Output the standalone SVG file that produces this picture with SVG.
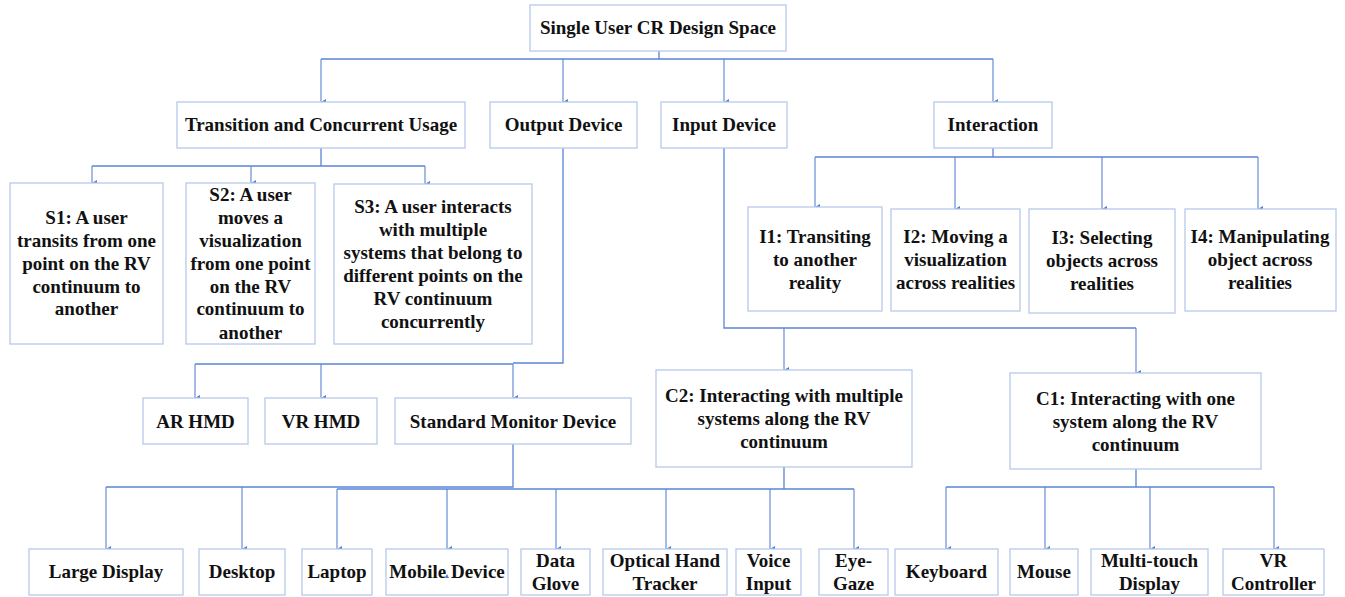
<svg xmlns="http://www.w3.org/2000/svg" width="1345" height="597" viewBox="0 0 1345 597">
  <defs>
    <marker id="arrow" viewBox="0 0 6 5" refX="3" refY="5" markerWidth="6" markerHeight="5" markerUnits="userSpaceOnUse" orient="auto-start-reverse">
      <path d="M0,0 L6,0 L3,5 Z" fill="#4f7bd3"/>
    </marker>
    <style>
      .box { fill: #ffffff; stroke: #b7c9ea; stroke-width: 1.3; }
      .lbl { font-family: "Liberation Serif", "Times New Roman", serif; font-weight: bold; font-size: 19px; fill: #111111; text-anchor: middle; }
      .wire { fill: none; stroke: #5a84d6; stroke-width: 1.3; }
      .drop { fill: none; stroke: #5a84d6; stroke-width: 1.1; marker-end: url(#arrow); }
    </style>
  </defs>
  <rect width="1345" height="597" fill="#ffffff"/>

  <!-- connectors -->
  <g id="connectors">
    <!-- root to categories -->
    <path class="wire" d="M659,51 V59 M321,59 H993"/>
    <path class="drop" d="M321,59 V102"/>
    <path class="drop" d="M563,59 V102"/>
    <path class="drop" d="M724,59 V102"/>
    <path class="drop" d="M993,59 V102"/>
    <!-- transition and concurrent usage -->
    <path class="wire" d="M321,148 V166 M92,166 H425"/>
    <path class="drop" d="M92,166 V183"/>
    <path class="drop" d="M251,166 V183"/>
    <path class="drop" d="M425,166 V184"/>
    <!-- output device -->
    <path class="wire" d="M563,148 V363 H513 M195,364 H513"/>
    <path class="drop" d="M195,364 V398"/>
    <path class="drop" d="M321,364 V398"/>
    <path class="drop" d="M513,364 V398"/>
    <!-- input device -->
    <path class="wire" d="M724,148 V328 H1136"/>
    <path class="drop" d="M784,328 V370"/>
    <path class="drop" d="M1136,328 V373"/>
    <!-- interaction -->
    <path class="wire" d="M993,148 V157 M815,157 H1258"/>
    <path class="drop" d="M815,157 V207"/>
    <path class="drop" d="M955,157 V209"/>
    <path class="drop" d="M1102,157 V209"/>
    <path class="drop" d="M1258,157 V209"/>
    <!-- standard monitor device -->
    <path class="wire" d="M513,444 V487 H106"/>
    <path class="drop" d="M106,487 V549"/>
    <path class="drop" d="M242,487 V549"/>
    <path class="drop" d="M337,489 V549"/>
    <path class="drop" d="M447,489 V549"/>
    <!-- C2 -->
    <path class="wire" d="M784,467 V489 M337,489 H854"/>
    <path class="drop" d="M556,489 V549"/>
    <path class="drop" d="M666,489 V549"/>
    <path class="drop" d="M770,489 V549"/>
    <path class="drop" d="M854,489 V549"/>
    <!-- C1 -->
    <path class="wire" d="M1136,469 V487 M946,487 H1274"/>
    <path class="drop" d="M946,487 V549"/>
    <path class="drop" d="M1045,487 V549"/>
    <path class="drop" d="M1150,487 V549"/>
    <path class="drop" d="M1274,487 V549"/>
  </g>

  <!-- root -->
  <g id="root">
    <rect class="box" x="530" y="5" width="256" height="46"/>
    <text class="lbl" x="658" y="34">Single User CR Design Space</text>
  </g>

  <!-- categories -->
  <g id="transition">
    <rect class="box" x="177" y="102" width="288" height="46"/>
    <text class="lbl" x="321" y="131">Transition and Concurrent Usage</text>
  </g>
  <g id="output-device">
    <rect class="box" x="490" y="102" width="147" height="46"/>
    <text class="lbl" x="563.5" y="131">Output Device</text>
  </g>
  <g id="input-device">
    <rect class="box" x="661" y="102" width="126" height="46"/>
    <text class="lbl" x="724" y="131">Input Device</text>
  </g>
  <g id="interaction">
    <rect class="box" x="934" y="102" width="118" height="46"/>
    <text class="lbl" x="993" y="131">Interaction</text>
  </g>

  <!-- scenarios -->
  <g id="s1">
    <rect class="box" x="10" y="183" width="153" height="161"/>
    <text class="lbl" x="86.5" y="224">S1: A user</text>
    <text class="lbl" x="86.5" y="247">transits from one</text>
    <text class="lbl" x="86.5" y="270">point on the RV</text>
    <text class="lbl" x="86.5" y="293">continuum to</text>
    <text class="lbl" x="86.5" y="315">another</text>
  </g>
  <g id="s2">
    <rect class="box" x="186" y="183" width="129" height="161"/>
    <text class="lbl" x="250.5" y="201">S2: A user</text>
    <text class="lbl" x="250.5" y="224">moves a</text>
    <text class="lbl" x="250.5" y="247">visualization</text>
    <text class="lbl" x="250.5" y="270">from one point</text>
    <text class="lbl" x="250.5" y="293">on the RV</text>
    <text class="lbl" x="250.5" y="315">continuum to</text>
    <text class="lbl" x="250.5" y="339">another</text>
  </g>
  <g id="s3">
    <rect class="box" x="334" y="184" width="198" height="160"/>
    <text class="lbl" x="433" y="213">S3: A user interacts</text>
    <text class="lbl" x="433" y="236">with multiple</text>
    <text class="lbl" x="433" y="259">systems that belong to</text>
    <text class="lbl" x="433" y="282">different points on the</text>
    <text class="lbl" x="433" y="305">RV continuum</text>
    <text class="lbl" x="433" y="328">concurrently</text>
  </g>

  <!-- interactions -->
  <g id="i1">
    <rect class="box" x="748" y="207" width="134" height="104"/>
    <text class="lbl" x="815" y="243">I1: Transiting</text>
    <text class="lbl" x="815" y="266">to another</text>
    <text class="lbl" x="815" y="289">reality</text>
  </g>
  <g id="i2">
    <rect class="box" x="891" y="209" width="129" height="102"/>
    <text class="lbl" x="955.5" y="243">I2: Moving a</text>
    <text class="lbl" x="955.5" y="266">visualization</text>
    <text class="lbl" x="955.5" y="289">across realities</text>
  </g>
  <g id="i3">
    <rect class="box" x="1029" y="209" width="146" height="104"/>
    <text class="lbl" x="1102" y="244">I3: Selecting</text>
    <text class="lbl" x="1102" y="267">objects across</text>
    <text class="lbl" x="1102" y="290">realities</text>
  </g>
  <g id="i4">
    <rect class="box" x="1185" y="209" width="151" height="102"/>
    <text class="lbl" x="1260" y="243">I4: Manipulating</text>
    <text class="lbl" x="1260" y="266">object across</text>
    <text class="lbl" x="1260" y="289">realities</text>
  </g>

  <!-- output devices -->
  <g id="ar-hmd">
    <rect class="box" x="143" y="398" width="105" height="46"/>
    <text class="lbl" x="195.5" y="428">AR HMD</text>
  </g>
  <g id="vr-hmd">
    <rect class="box" x="265" y="398" width="112" height="46"/>
    <text class="lbl" x="321" y="428">VR HMD</text>
  </g>
  <g id="standard-monitor">
    <rect class="box" x="395" y="398" width="236" height="46"/>
    <text class="lbl" x="513" y="428">Standard Monitor Device</text>
  </g>

  <!-- continuum modes -->
  <g id="c2">
    <rect class="box" x="656" y="370" width="256" height="97"/>
    <text class="lbl" x="784" y="402">C2: Interacting with multiple</text>
    <text class="lbl" x="784" y="425">systems along the RV</text>
    <text class="lbl" x="784" y="448">continuum</text>
  </g>
  <g id="c1">
    <rect class="box" x="1010" y="373" width="251" height="96"/>
    <text class="lbl" x="1135.5" y="405">C1: Interacting with one</text>
    <text class="lbl" x="1135.5" y="428">system along the RV</text>
    <text class="lbl" x="1135.5" y="451">continuum</text>
  </g>

  <!-- devices -->
  <g id="large-display">
    <rect class="box" x="29" y="549" width="154" height="46"/>
    <text class="lbl" x="106" y="578">Large Display</text>
  </g>
  <g id="desktop">
    <rect class="box" x="199" y="549" width="86" height="46"/>
    <text class="lbl" x="242" y="578">Desktop</text>
  </g>
  <g id="laptop">
    <rect class="box" x="302" y="549" width="70" height="46"/>
    <text class="lbl" x="337" y="578">Laptop</text>
  </g>
  <g id="mobile-device">
    <rect class="box" x="386" y="549" width="122" height="46"/>
    <text class="lbl" x="447" y="578">Mobile Device</text>
    <path d="M445,578 L449,578 L447,574 Z" fill="#4f7bd3"/>
  </g>
  <g id="data-glove">
    <rect class="box" x="521" y="549" width="69" height="46"/>
    <text class="lbl" x="555.5" y="567">Data</text>
    <text class="lbl" x="555.5" y="590">Glove</text>
  </g>
  <g id="optical-hand-tracker">
    <rect class="box" x="603" y="549" width="124" height="46"/>
    <text class="lbl" x="665" y="567">Optical Hand</text>
    <text class="lbl" x="665" y="590">Tracker</text>
  </g>
  <g id="voice-input">
    <rect class="box" x="736" y="549" width="65" height="46"/>
    <text class="lbl" x="768.5" y="567">Voice</text>
    <text class="lbl" x="768.5" y="590">Input</text>
  </g>
  <g id="eye-gaze">
    <rect class="box" x="819" y="549" width="69" height="46"/>
    <text class="lbl" x="853.5" y="567">Eye-</text>
    <text class="lbl" x="853.5" y="590">Gaze</text>
  </g>
  <g id="keyboard">
    <rect class="box" x="895" y="549" width="103" height="46"/>
    <text class="lbl" x="946.5" y="578">Keyboard</text>
  </g>
  <g id="mouse">
    <rect class="box" x="1010" y="549" width="68" height="46"/>
    <text class="lbl" x="1044" y="578">Mouse</text>
  </g>
  <g id="multi-touch-display">
    <rect class="box" x="1091" y="549" width="117" height="46"/>
    <text class="lbl" x="1149.5" y="567">Multi-touch</text>
    <text class="lbl" x="1149.5" y="590">Display</text>
  </g>
  <g id="vr-controller">
    <rect class="box" x="1223" y="549" width="101" height="46"/>
    <text class="lbl" x="1273.5" y="567">VR</text>
    <text class="lbl" x="1273.5" y="590">Controller</text>
  </g>
</svg>
